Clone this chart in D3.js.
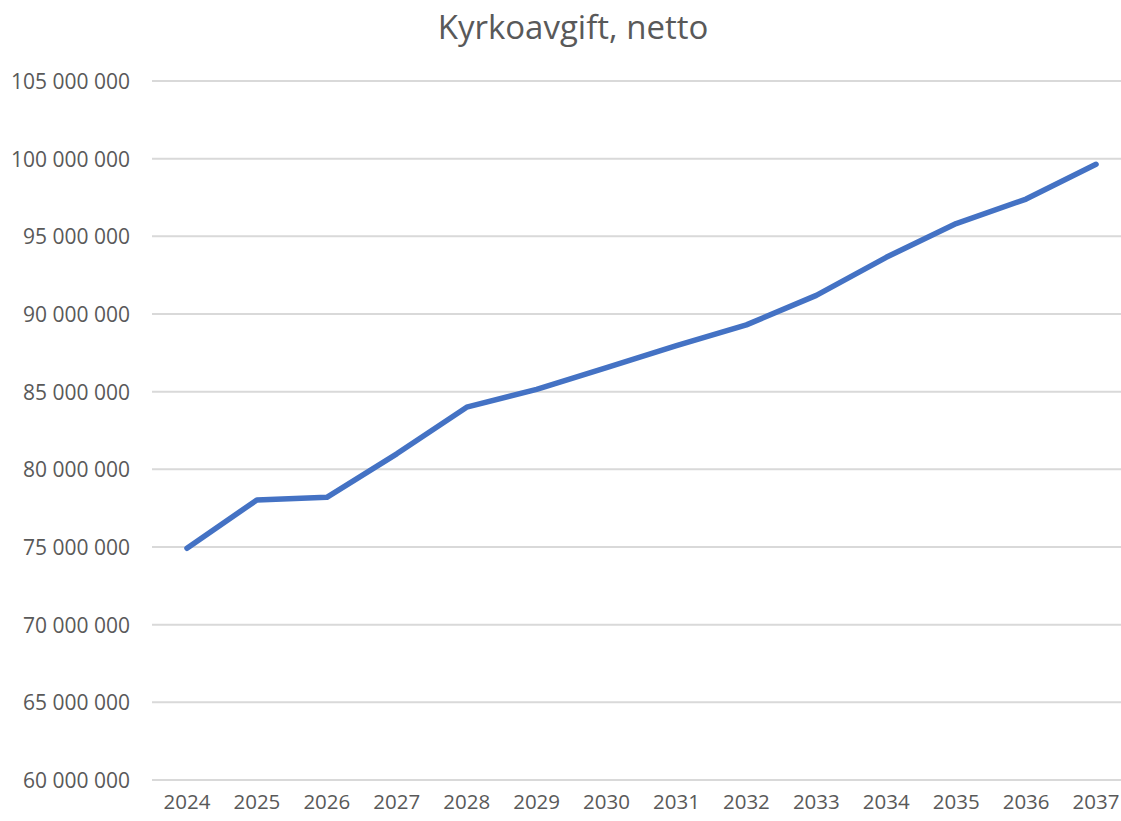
<!DOCTYPE html>
<html>
<head>
<meta charset="utf-8">
<script src="https://cdn.jsdelivr.net/npm/d3@7"></script>
<style>
  html, body { margin: 0; padding: 0; background: #fff; }
  svg { display: block; }
  text { font-family: "Open Sans", "Noto Sans", sans-serif; fill: #595959; }
</style>
</head>
<body>
<svg id="chart" width="1121" height="821"></svg>
<script>
const years = ["2024","2025","2026","2027","2028","2029","2030","2031","2032","2033","2034","2035","2036","2037"];
const values = [74920000, 78030000, 78200000, 81000000, 84000000, 85150000, 86550000, 87960000, 89300000, 91200000, 93650000, 95820000, 97400000, 99640000];
const yTicks = [60000000, 65000000, 70000000, 75000000, 80000000, 85000000, 90000000, 95000000, 100000000, 105000000];
const title = "Kyrkoavgift, netto";

const svg = d3.select("#chart");
const W = 1121, H = 821;
const plotLeft = 152, plotRight = 1131, plotTop = 81, plotBottom = 780;

const x = d3.scaleBand().domain(years).range([plotLeft, plotRight]);
const y = d3.scaleLinear().domain([60000000, 105000000]).range([plotBottom, plotTop]);

// gridlines
svg.append("g")
  .selectAll("line")
  .data(yTicks)
  .join("line")
  .attr("x1", plotLeft).attr("x2", W)
  .attr("y1", d => y(d)).attr("y2", d => y(d))
  .attr("stroke", "#d9d9d9").attr("stroke-width", 2);

// y axis labels
const yAxis = d3.axisLeft(y).tickValues(yTicks).tickSize(0).tickPadding(0)
  .tickFormat(d => d3.format(",")(d).replace(/,/g, " "));
const gy = svg.append("g").attr("transform", `translate(${130},0)`).call(yAxis);
gy.select(".domain").remove();
gy.selectAll("text").attr("font-size", 21).attr("fill", "#595959")
  .attr("font-family", "'Open Sans', sans-serif").attr("dy", "0.35em");

// x axis labels
const xAxis = d3.axisBottom(x).tickSize(0).tickPadding(0);
const gx = svg.append("g").attr("transform", `translate(0,${plotBottom + 14})`).call(xAxis);
gx.select(".domain").remove();
gx.selectAll("text").attr("font-size", 20.5).attr("fill", "#595959")
  .attr("font-family", "'Open Sans', sans-serif").attr("dy", "0.71em");

// line
const line = d3.line()
  .x((d, i) => x(years[i]) + x.bandwidth() / 2)
  .y(d => y(d));
svg.append("path")
  .datum(values)
  .attr("d", line)
  .attr("fill", "none")
  .attr("stroke", "#4472c4")
  .attr("stroke-width", 5.5)
  .attr("stroke-linejoin", "round")
  .attr("stroke-linecap", "round");

// title
svg.append("text")
  .attr("x", 573).attr("y", 39)
  .attr("text-anchor", "middle")
  .attr("font-size", 33)
  .attr("fill", "#595959")
  .text(title);
</script>
</body>
</html>
